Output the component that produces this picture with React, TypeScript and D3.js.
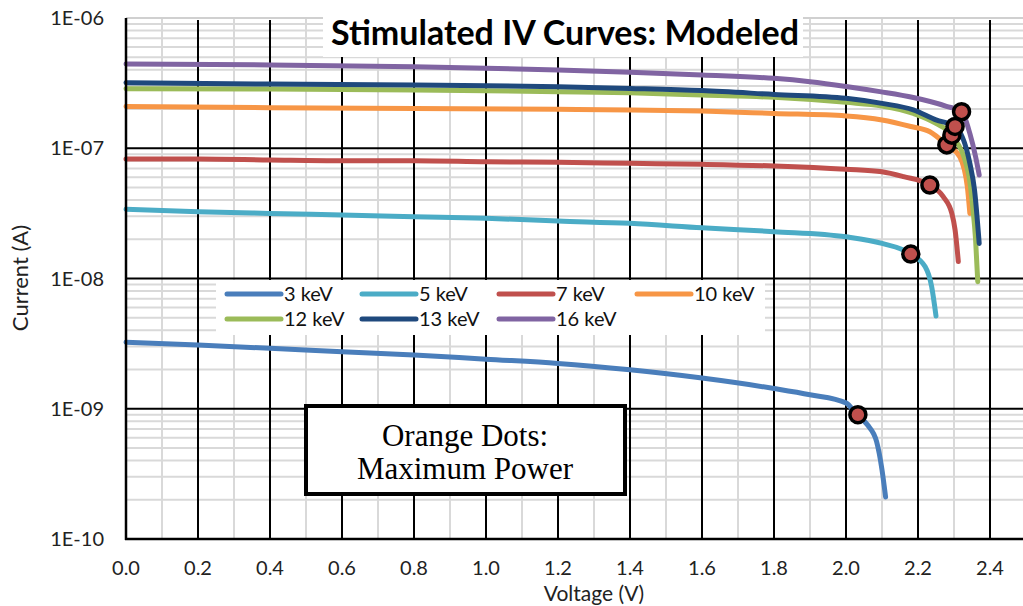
import React, { useEffect, useRef } from "react";
import * as d3 from "d3";

// series labels and colours
const seriesNames = ["3 keV", "5 keV", "7 keV", "10 keV", "12 keV", "13 keV", "16 keV"];
const seriesColors = ["#4a7ebb", "#4bacc6", "#c0504d", "#f79646", "#9bbb59", "#1f497d", "#8064a2"];

// voltage (V) / current (A)
const v3 = [0, 0.2, 0.4, 0.6, 0.8, 1.0, 1.2, 1.4, 1.6, 1.8, 1.9, 2.0, 2.03, 2.06, 2.085, 2.1, 2.11];
const i3 = [3.24e-9, 3.08e-9, 2.91e-9, 2.74e-9, 2.59e-9, 2.4e-9, 2.23e-9, 1.99e-9, 1.72e-9, 1.43e-9, 1.28e-9, 1.11e-9, 9.0e-10, 7.5e-10, 5.6e-10, 3.4e-10, 2.1e-10];

const v5 = [0, 0.2, 0.4, 0.6, 0.8, 1.0, 1.2, 1.4, 1.6, 1.8, 2.0, 2.1, 2.18, 2.22, 2.238, 2.25];
const i5 = [3.4e-8, 3.26e-8, 3.16e-8, 3.07e-8, 2.98e-8, 2.9e-8, 2.76e-8, 2.65e-8, 2.45e-8, 2.29e-8, 2.09e-8, 1.86e-8, 1.54e-8, 1.23e-8, 8.65e-9, 5.15e-9];

const v7 = [0, 0.2, 0.4, 0.6, 0.8, 1.0, 1.2, 1.4, 1.6, 1.8, 2.0, 2.1, 2.16, 2.233, 2.27, 2.294, 2.303, 2.312];
const i7 = [8.27e-8, 8.27e-8, 8.13e-8, 8.02e-8, 8.02e-8, 7.88e-8, 7.8e-8, 7.66e-8, 7.53e-8, 7.31e-8, 6.9e-8, 6.6e-8, 6.05e-8, 5.22e-8, 4.25e-8, 3.16e-8, 2.36e-8, 1.35e-8];

const v10 = [0, 0.4, 0.8, 1.2, 1.4, 1.6, 1.8, 2.0, 2.1, 2.18, 2.233, 2.28, 2.316, 2.337, 2.344];
const i10 = [2.09e-7, 2.05e-7, 2.02e-7, 1.99e-7, 1.97e-7, 1.93e-7, 1.85e-7, 1.77e-7, 1.65e-7, 1.47e-7, 1.34e-7, 1.06e-7, 8.6e-8, 5.07e-8, 3.16e-8];

const v12 = [0, 0.4, 0.8, 1.2, 1.4, 1.6, 1.8, 2.0, 2.1, 2.187, 2.25, 2.294, 2.34, 2.352, 2.36, 2.366];
const i12 = [2.86e-7, 2.85e-7, 2.8e-7, 2.72e-7, 2.67e-7, 2.56e-7, 2.46e-7, 2.25e-7, 2.11e-7, 1.85e-7, 1.55e-7, 1.26e-7, 6.42e-8, 3.56e-8, 1.98e-8, 9.45e-9];

const v13 = [0, 0.4, 0.8, 1.2, 1.4, 1.6, 1.8, 2.0, 2.1, 2.187, 2.25, 2.303, 2.344, 2.357, 2.37];
const i13 = [3.19e-7, 3.11e-7, 3.06e-7, 2.97e-7, 2.88e-7, 2.77e-7, 2.59e-7, 2.42e-7, 2.21e-7, 1.97e-7, 1.65e-7, 1.47e-7, 7.66e-8, 4.78e-8, 1.86e-8];

const v16 = [0, 0.4, 0.8, 1.2, 1.4, 1.6, 1.8, 1.9, 2.0, 2.094, 2.187, 2.279, 2.321, 2.344, 2.36, 2.37];
const i16 = [4.43e-7, 4.36e-7, 4.23e-7, 3.99e-7, 3.83e-7, 3.65e-7, 3.44e-7, 3.24e-7, 2.98e-7, 2.72e-7, 2.45e-7, 2.1e-7, 1.91e-7, 1.3e-7, 8.6e-8, 6.24e-8];

// maximum power points, same series order
const mppV = [2.033, 2.18, 2.233, 2.28, 2.294, 2.303, 2.321];
const mppI = [9.0e-10, 1.54e-8, 5.22e-8, 1.06e-7, 1.26e-7, 1.47e-7, 1.91e-7];

const xTicks = [0, 0.2, 0.4, 0.6, 0.8, 1.0, 1.2, 1.4, 1.6, 1.8, 2.0, 2.2, 2.4];
const yTicks = [1e-10, 1e-9, 1e-8, 1e-7, 1e-6];
const yTickLabels = ["1E-10", "1E-09", "1E-08", "1E-07", "1E-06"];

const W = 1023;
const H = 606;
const FONT = "Lato, 'Open Sans', sans-serif";

export default function App() {
  const ref = useRef<SVGSVGElement>(null);

  useEffect(() => {
    const svg = d3.select(ref.current);
    svg.selectAll("*").remove();

    const x = d3.scaleLinear().domain([0, 2.5]).range([126, 1026]);
    const y = d3.scaleLog().domain([1e-10, 1e-6]).range([539, 18]);

    const grid = svg.append("g");
    // minor grid
    const minorX = d3.range(1, 26, 2).map(k => k / 10);
    const minorY: number[] = [];
    [-10, -9, -8, -7].forEach(e => {
      for (let k = 2; k <= 9; k++) minorY.push(k * Math.pow(10, e));
    });
    grid.selectAll(".mx").data(minorX).join("line")
      .attr("x1", d => x(d)).attr("x2", d => x(d))
      .attr("y1", y(1e-6)).attr("y2", y(1e-10))
      .attr("stroke", "#d9d9d9").attr("stroke-width", 2);
    grid.selectAll(".my").data(minorY).join("line")
      .attr("x1", x(0)).attr("x2", W)
      .attr("y1", d => y(d)).attr("y2", d => y(d))
      .attr("stroke", "#d9d9d9").attr("stroke-width", 2);
    // major grid
    grid.append("line")
      .attr("x1", x(0)).attr("x2", W)
      .attr("y1", y(1e-6)).attr("y2", y(1e-6))
      .attr("stroke", "#d0d0d0").attr("stroke-width", 2);
    grid.selectAll(".My").data(yTicks.slice(0, 4)).join("line")
      .attr("x1", x(0)).attr("x2", W)
      .attr("y1", d => y(d)).attr("y2", d => y(d))
      .attr("stroke", "#000").attr("stroke-width", 2);
    grid.selectAll(".Mx").data(xTicks).join("line")
      .attr("x1", d => x(d)).attr("x2", d => x(d))
      .attr("y1", y(1e-6) + 2).attr("y2", y(1e-10))
      .attr("stroke", "#000").attr("stroke-width", 2);

    // title box
    svg.append("rect").attr("x", 323).attr("y", 0).attr("width", 480).attr("height", 57).attr("fill", "#fff");
    svg.append("text")
      .attr("x", 565).attr("y", 45)
      .attr("text-anchor", "middle")
      .attr("font-family", FONT).attr("font-weight", "bold").attr("font-size", 34)
      .text("Stimulated IV Curves: Modeled");

    // curves
    const series = seriesNames.map((name, k) => {
      const vs = [v3, v5, v7, v10, v12, v13, v16][k];
      const is = [i3, i5, i7, i10, i12, i13, i16][k];
      return { name, color: seriesColors[k], pts: vs.map((v, j) => [v, is[j]] as [number, number]) };
    });
    const line = d3.line<[number, number]>()
      .x(d => x(d[0])).y(d => y(d[1]))
      .curve(d3.curveMonotoneX);
    svg.append("g").selectAll("path").data(series).join("path")
      .attr("d", d => line(d.pts))
      .attr("fill", "none")
      .attr("stroke", d => d.color)
      .attr("stroke-width", 5)
      .attr("stroke-linecap", "round")
      .attr("stroke-linejoin", "round");

    // max power dots
    svg.append("g").selectAll("circle").data(mppV).join("circle")
      .attr("cx", d => x(d)).attr("cy", (d, k) => y(mppI[k]))
      .attr("r", 8)
      .attr("fill", "#c0504d").attr("stroke", "#000").attr("stroke-width", 3.5);

    // legend
    const lg = svg.append("g");
    lg.append("rect").attr("x", 216).attr("y", 280).attr("width", 549).attr("height", 55).attr("fill", "#fff");
    const colX = [227, 362, 499, 637];
    const item = lg.selectAll("g").data(series).join("g")
      .attr("transform", (d, k) => `translate(${colX[k % 4]},${k < 4 ? 294 : 319})`);
    item.append("line")
      .attr("x1", 0).attr("x2", 54).attr("y1", 0).attr("y2", 0)
      .attr("stroke", d => d.color).attr("stroke-width", 5).attr("stroke-linecap", "round");
    item.append("text")
      .attr("x", 57).attr("dy", "0.36em")
      .attr("font-family", FONT).attr("font-size", 20).attr("fill", "#111")
      .text(d => d.name);

    // annotation box
    svg.append("rect").attr("x", 306).attr("y", 406).attr("width", 319).attr("height", 88)
      .attr("fill", "#fff").attr("stroke", "#000").attr("stroke-width", 4);
    const note = svg.append("text")
      .attr("text-anchor", "middle")
      .attr("font-family", "'Liberation Serif', 'Times New Roman', serif").attr("font-size", 31);
    note.append("tspan").attr("x", 465).attr("y", 446).text("Orange Dots:");
    note.append("tspan").attr("x", 465).attr("y", 479).text("Maximum Power");

    // axes
    svg.append("line").attr("x1", x(0)).attr("x2", x(0)).attr("y1", y(1e-6)).attr("y2", y(1e-10) + 1)
      .attr("stroke", "#000").attr("stroke-width", 2.5);
    svg.append("line").attr("x1", x(0) - 1).attr("x2", W).attr("y1", y(1e-10)).attr("y2", y(1e-10))
      .attr("stroke", "#000").attr("stroke-width", 2.5);

    svg.append("g").selectAll("text").data(xTicks).join("text")
      .attr("x", d => x(d)).attr("y", 575)
      .attr("text-anchor", "middle")
      .attr("font-family", FONT).attr("font-size", 20).attr("fill", "#222")
      .text(d => d3.format(".1f")(d));
    svg.append("g").selectAll("text").data(yTicks).join("text")
      .attr("x", 104).attr("y", d => y(d)).attr("dy", "0.36em")
      .attr("text-anchor", "end")
      .attr("font-family", FONT).attr("font-size", 20).attr("fill", "#222")
      .text((d, k) => yTickLabels[k]);

    svg.append("text")
      .attr("x", 594).attr("y", 601).attr("text-anchor", "middle")
      .attr("font-family", FONT).attr("font-size", 21).attr("fill", "#222")
      .text("Voltage (V)");
    svg.append("text")
      .attr("transform", "translate(28,278) rotate(-90)").attr("text-anchor", "middle")
      .attr("font-family", FONT).attr("font-size", 22).attr("fill", "#222")
      .text("Current (A)");
  }, []);

  return (
    <svg
      ref={ref}
      width={W}
      height={H}
      style={{ position: "absolute", left: 0, top: 0, background: "#fff" }}
    />
  );
}
